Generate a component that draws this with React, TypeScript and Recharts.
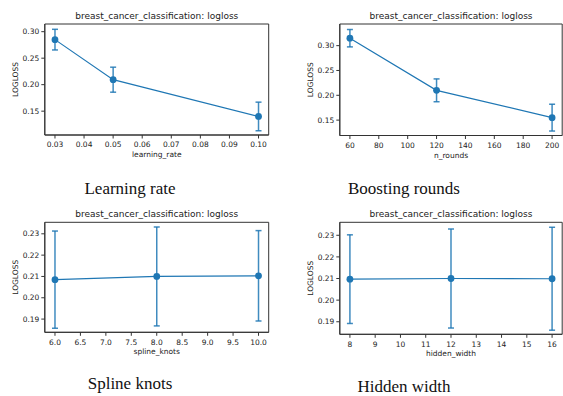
import { LineChart, Line, XAxis, YAxis, ErrorBar, ReferenceArea } from "recharts";

// learning rate sweep
const learningRates = [0.03, 0.05, 0.1];
const lrLoss = [0.285, 0.2094, 0.14];
const lrErr = [0.0195, 0.0236, 0.027];

// boosting rounds sweep
const nRounds = [60, 120, 200];
const roundsLoss = [0.315, 0.21, 0.155];
const roundsErr = [0.0175, 0.023, 0.027];

// spline knots sweep
const splineKnots = [6, 8, 10];
const knotsLoss = [0.2085, 0.21, 0.2103];
const knotsErr = [0.0228, 0.0232, 0.0212];

// hidden width sweep
const hiddenWidths = [8, 12, 16];
const widthLoss = [0.2097, 0.21, 0.2099];
const widthErr = [0.0205, 0.0229, 0.0238];

const TITLE = "breast_cancer_classification: logloss";
const Y_LABEL = "LOGLOSS";

const BLUE = "#1f77b4";
const TEXT = "#222222";
const SPINE = "#333333";
const FONT = "'DejaVu Sans', sans-serif";

interface PanelProps {
  left: number;
  top: number;
  width: number;
  height: number;
  axisWidth: number;
  marginTop: number;
  marginRight: number;
  xs: number[];
  ys: number[];
  errs: number[];
  xDomain: [number, number];
  xTicks: number[];
  xFmt: (v: number) => string;
  yDomain: [number, number];
  yTicks: number[];
  xLabel: string;
  yLabelX: number;
}

function Panel(p: PanelProps) {
  const data = p.xs.map((x, i) => ({ x, loss: p.ys[i], err: p.errs[i] }));
  const tickStyle = { fontSize: 7.5, fill: TEXT, fontFamily: FONT };

  return (
    <div style={{ position: "absolute", left: p.left, top: p.top }}>
      <LineChart
        width={p.width}
        height={p.height}
        data={data}
        margin={{ top: p.marginTop, right: p.marginRight, bottom: 0, left: 0 }}
      >
        <XAxis
          dataKey="x"
          type="number"
          domain={p.xDomain}
          ticks={p.xTicks}
          tickFormatter={p.xFmt}
          allowDataOverflow
          height={35}
          tickSize={3.5}
          tickMargin={3.5}
          tick={tickStyle}
          stroke={SPINE}
          interval={0}
          label={{
            content: (props: any) => {
              const vb = props.viewBox;
              return (
                <text x={vb.x + vb.width / 2} y={vb.y + 22} textAnchor="middle" fontSize={7.5} fill={TEXT} fontFamily={FONT}>
                  {p.xLabel}
                </text>
              );
            },
          }}
        />
        <YAxis
          type="number"
          domain={p.yDomain}
          ticks={p.yTicks}
          tickFormatter={(v: number) => v.toFixed(2)}
          allowDataOverflow
          width={p.axisWidth}
          tickSize={3.5}
          tickMargin={2}
          tick={tickStyle}
          stroke={SPINE}
          interval={0}
          label={{
            content: (props: any) => {
              const vb = props.viewBox;
              const cy = vb.y + vb.height / 2;
              return (
                <text
                  x={p.yLabelX}
                  y={cy}
                  dy="0.35em"
                  transform={`rotate(-90 ${p.yLabelX} ${cy})`}
                  textAnchor="middle"
                  fontSize={7.5}
                  fill={TEXT}
                  fontFamily={FONT}
                >
                  {Y_LABEL}
                </text>
              );
            },
          }}
        />
        {/* axes frame + title */}
        <ReferenceArea
          x1={p.xDomain[0]}
          x2={p.xDomain[1]}
          y1={p.yDomain[0]}
          y2={p.yDomain[1]}
          fill="none"
          stroke={SPINE}
          strokeWidth={1}
          label={{
            content: (props: any) => {
              const vb = props.viewBox;
              return (
                <text x={vb.x + vb.width / 2} y={vb.y - 5} textAnchor="middle" fontSize={9} fill={TEXT} fontFamily={FONT}>
                  {TITLE}
                </text>
              );
            },
          }}
        />
        <Line
          dataKey="loss"
          stroke={BLUE}
          strokeWidth={1.2}
          dot={{ r: 3.4, fill: BLUE, stroke: "none" }}
          isAnimationActive={false}
        >
          <ErrorBar dataKey="err" direction="y" width={3} stroke={BLUE} strokeWidth={1.5} strokeOpacity={0.85} />
        </Line>
      </LineChart>
    </div>
  );
}

const captionStyle = {
  position: "absolute" as const,
  width: 200,
  textAlign: "center" as const,
  fontFamily: "'Liberation Serif', Tinos, 'Times New Roman', 'DejaVu Serif', serif",
  fontSize: 17,
  lineHeight: "17px",
  color: "#111",
};

export default function App() {
  return (
    <div
      style={{
        position: "absolute",
        left: 0,
        top: 0,
        width: 563,
        height: 396,
        overflow: "hidden",
        background: "#fff",
      }}
    >
      <Panel
        left={0}
        top={0}
        width={280}
        height={170}
        axisWidth={44.8}
        marginTop={24}
        marginRight={11.3}
        xs={learningRates}
        ys={lrLoss}
        errs={lrErr}
        xDomain={[0.0265, 0.1035]}
        xTicks={[0.03, 0.04, 0.05, 0.06, 0.07, 0.08, 0.09, 0.1]}
        xFmt={(v) => v.toFixed(2)}
        yDomain={[0.105, 0.3145]}
        yTicks={[0.15, 0.2, 0.25, 0.3]}
        xLabel="learning_rate"
        yLabelX={15}
      />
      <Panel
        left={280}
        top={0}
        width={283}
        height={170.5}
        axisWidth={59.8}
        marginTop={24}
        marginRight={0.8}
        xs={nRounds}
        ys={roundsLoss}
        errs={roundsErr}
        xDomain={[53, 207]}
        xTicks={[60, 80, 100, 120, 140, 160, 180, 200]}
        xFmt={(v) => String(v)}
        yDomain={[0.119, 0.3436]}
        yTicks={[0.15, 0.2, 0.25, 0.3]}
        xLabel="n_rounds"
        yLabelX={30.7}
      />
      <Panel
        left={0}
        top={200}
        width={280}
        height={167.3}
        axisWidth={44.8}
        marginTop={22.3}
        marginRight={11.3}
        xs={splineKnots}
        ys={knotsLoss}
        errs={knotsErr}
        xDomain={[5.8, 10.2]}
        xTicks={[6, 6.5, 7, 7.5, 8, 8.5, 9, 9.5, 10]}
        xFmt={(v) => v.toFixed(1)}
        yDomain={[0.1838, 0.2354]}
        yTicks={[0.19, 0.2, 0.21, 0.22, 0.23]}
        xLabel="spline_knots"
        yLabelX={15}
      />
      <Panel
        left={280}
        top={200}
        width={283}
        height={169.3}
        axisWidth={59.8}
        marginTop={22.3}
        marginRight={0.8}
        xs={hiddenWidths}
        ys={widthLoss}
        errs={widthErr}
        xDomain={[7.6, 16.4]}
        xTicks={[8, 9, 10, 11, 12, 13, 14, 15, 16]}
        xFmt={(v) => String(v)}
        yDomain={[0.1842, 0.236]}
        yTicks={[0.19, 0.2, 0.21, 0.22, 0.23]}
        xLabel="hidden_width"
        yLabelX={30.7}
      />
      <div style={{ ...captionStyle, left: 30, top: 180 }}>Learning rate</div>
      <div style={{ ...captionStyle, left: 304, top: 180 }}>Boosting rounds</div>
      <div style={{ ...captionStyle, left: 30, top: 375 }}>Spline knots</div>
      <div style={{ ...captionStyle, left: 304, top: 378 }}>Hidden width</div>
    </div>
  );
}
